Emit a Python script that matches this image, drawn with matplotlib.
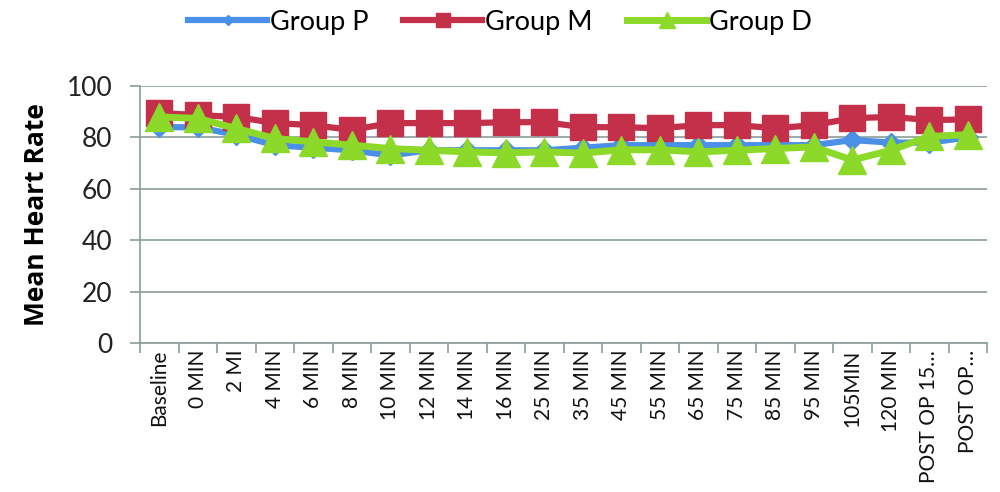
import matplotlib

matplotlib.use("Agg")
import matplotlib.pyplot as plt
import numpy as np

plt.rcParams["font.family"] = ["Lato", "DejaVu Sans"]

categories = [
    "Baseline", "0 MIN", "2 MI", "4 MIN", "6 MIN", "8 MIN", "10 MIN", "12 MIN",
    "14 MIN", "16 MIN", "25 MIN", "35 MIN", "45 MIN", "55 MIN", "65 MIN",
    "75 MIN", "85 MIN", "95 MIN", "105MIN", "120 MIN", "POST OP 15…", "POST OP…",
]
group_p = [84, 84, 81, 77, 76, 75, 73, 75, 75, 75, 75,
           76, 77, 77, 77, 77, 77, 77, 79, 78, 78, 80]
group_m = [89.5, 88.7, 88, 85.6, 84.8, 82.9, 85.6, 85.6, 85.6, 85.9, 86,
           84, 84, 83.6, 84.8, 84.8, 83.6, 84.8, 87.5, 88, 86.8, 87]
group_d = [88, 87.4, 83.5, 79.6, 78.3, 77, 75.7, 75, 74.4, 74, 74.4,
           73.9, 75.2, 75.2, 74.4, 75, 75.7, 76.3, 71.2, 75, 80.4, 81.1]

yticks = [0, 20, 40, 60, 80, 100]

fig = plt.figure(figsize=(10, 4.92), dpi=100)
ax = fig.add_axes([0.14, 0.303, 0.847, 0.522])

x = np.arange(len(categories))
ax.plot(x, group_p, "-D", color="#4A90E8", lw=4.5, ms=10, label="Group P", zorder=3)
ax.plot(x, group_m, "-s", color="#C4304A", lw=4.5, ms=19, label="Group M", zorder=4)
ax.plot(x, group_d, "-^", color="#8CD92A", lw=5, ms=20, label="Group D", zorder=5)

ax.set_xlim(-0.5, len(categories) - 0.5)
ax.set_ylim(0, 100)
ax.set_yticks(yticks)
ax.set_yticklabels([str(v) for v in yticks], fontsize=19, color="#222222")
ax.grid(axis="y", color="#8C9C9C", lw=1.2, zorder=0)

# Excel style: tick marks between categories, labels centred
ax.set_xticks(x)
ax.set_xticklabels(categories, rotation=90, fontsize=15, color="#111111")
ax.set_xticks(np.arange(len(categories) + 1) - 0.5, minor=True)
ax.tick_params(axis="x", which="major", length=0, pad=5)
ax.tick_params(axis="x", which="minor", length=7, color="#8C9C9C", width=1.2)
ax.tick_params(axis="y", length=7, color="#8C9C9C", width=1.2, pad=13)

for s in ["top", "right"]:
    ax.spines[s].set_visible(False)
for s in ["left", "bottom"]:
    ax.spines[s].set_color("#8C9C9C")
    ax.spines[s].set_linewidth(1.2)

ax.set_ylabel("Mean Heart Rate", fontsize=19, fontweight="bold",
              family=["Open Sans", "DejaVu Sans"], labelpad=12)

fig.legend(loc="upper center", bbox_to_anchor=(0.5, 1.03), ncol=3, frameon=False,
           fontsize=19.5, handlelength=2.9, columnspacing=1.3, handletextpad=0.1,
           markerscale=0.55)

fig.savefig("out.png")
